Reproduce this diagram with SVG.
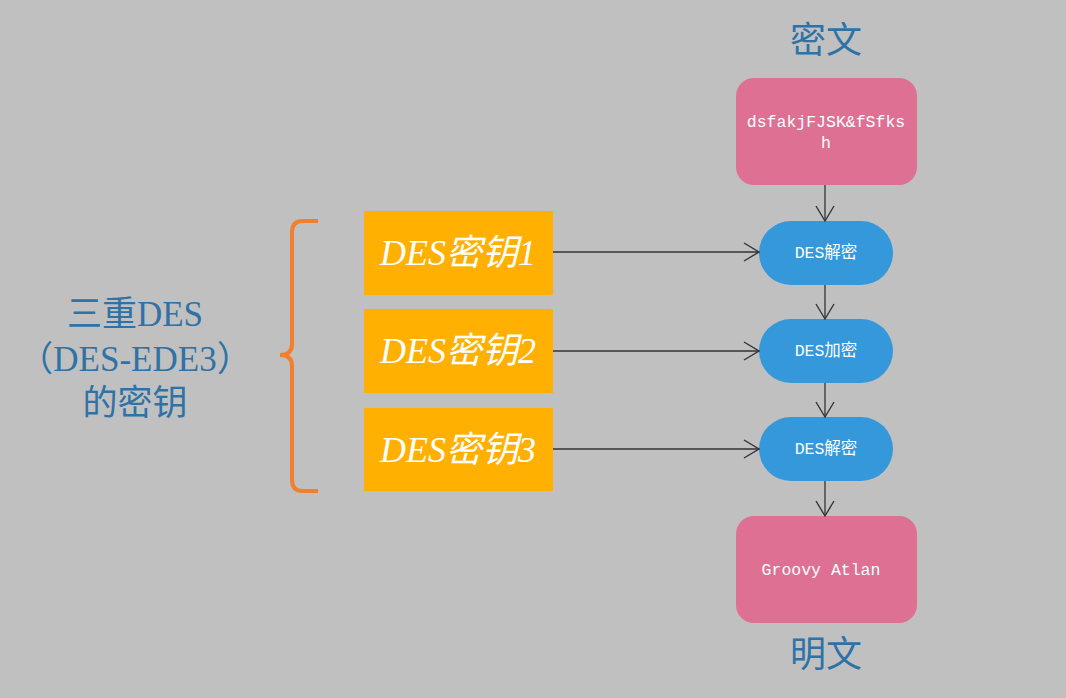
<svg xmlns="http://www.w3.org/2000/svg" width="1066" height="698" viewBox="0 0 1066 698">
<defs>
<marker id="arr" markerWidth="18" markerHeight="20" refX="16" refY="10" orient="auto" markerUnits="userSpaceOnUse">
<path d="M1,1 L16,10 L1,19" fill="none" stroke="#333" stroke-width="1.4"/>
</marker>
<style>
.lbl{font-family:"Liberation Serif","Noto Sans CJK SC",serif;fill:#2f72a6;text-anchor:middle}
.mono{font-family:"Liberation Mono","Noto Sans CJK SC",monospace;fill:#fff;font-size:16.5px;text-anchor:middle}
.key{font-family:"Liberation Serif","Noto Sans CJK SC",serif;fill:#fff;font-size:36px;font-style:italic;text-anchor:middle}
.pink{fill:#dd7093}
.blue{fill:#3498db}
.orange{fill:#ffb000}
.conn{stroke:#333;stroke-width:1.3;fill:none;marker-end:url(#arr)}
</style>
</defs>
<rect width="1066" height="698" fill="#c0c0c0"/>
<g id="title-cipher"><text class="lbl" x="826" y="53" font-size="36">密文</text></g>
<g id="title-plain"><text class="lbl" x="826" y="667" font-size="36">明文</text></g>
<g id="left-label">
<text class="lbl" x="135" y="326" font-size="35">三重DES</text>
<text class="lbl" x="135" y="371" font-size="35">（DES-EDE3）</text>
<text class="lbl" x="135" y="415" font-size="35">的密钥</text>
</g>
<g id="brace">
<path d="M318,221 L303,221 Q292,221 292,232 L292,344 Q292,355 280,355 Q292,355 292,366 L292,480 Q292,491 303,491 L318,491" fill="none" stroke="#f08030" stroke-width="4"/>
</g>
<g id="ciphertext"><rect class="pink" x="736" y="78" width="181" height="107" rx="18"/>
<text class="mono" x="826" y="127">dsfakjFJSK&amp;fSfks</text><text class="mono" x="826" y="148">h</text></g>
<g id="dec1"><rect class="blue" x="759" y="221" width="134" height="64" rx="32"/><text class="mono" x="826" y="258" font-size="17">DES解密</text></g>
<g id="enc"><rect class="blue" x="759" y="319" width="134" height="64" rx="32"/><text class="mono" x="826" y="356" font-size="17">DES加密</text></g>
<g id="dec2"><rect class="blue" x="759" y="417" width="134" height="64" rx="32"/><text class="mono" x="826" y="454" font-size="17">DES解密</text></g>
<g id="plaintext"><rect class="pink" x="736" y="516" width="181" height="107" rx="18"/>
<text class="mono" x="821" y="575">Groovy Atlan</text></g>
<g id="key1"><rect class="orange" x="364" y="211" width="189" height="84"/><text class="key" x="458" y="265">DES密钥1</text></g>
<g id="key2"><rect class="orange" x="364" y="309" width="189" height="84"/><text class="key" x="458" y="363">DES密钥2</text></g>
<g id="key3"><rect class="orange" x="364" y="408" width="189" height="83"/><text class="key" x="458" y="462">DES密钥3</text></g>
<g id="connectors">
<line class="conn" x1="825" y1="185" x2="825" y2="221"/>
<line class="conn" x1="825" y1="285" x2="825" y2="319"/>
<line class="conn" x1="825" y1="383" x2="825" y2="417"/>
<line class="conn" x1="825" y1="481" x2="825" y2="516"/>
<line class="conn" x1="553" y1="252" x2="759" y2="252"/>
<line class="conn" x1="553" y1="351" x2="759" y2="351"/>
<line class="conn" x1="553" y1="449" x2="759" y2="449"/>
</g>
</svg>
